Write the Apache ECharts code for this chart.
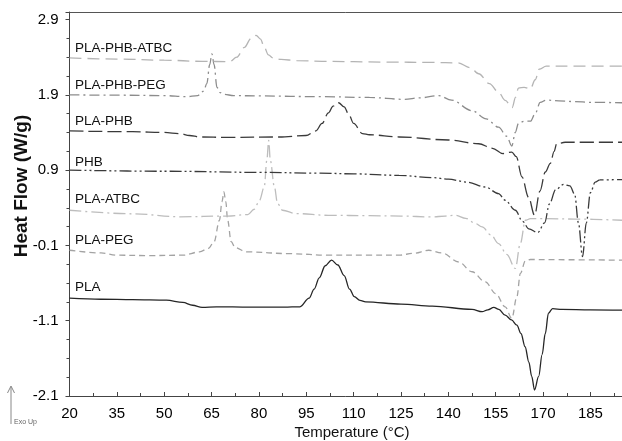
<!DOCTYPE html>
<html><head><meta charset="utf-8">
<script src="https://cdn.jsdelivr.net/npm/echarts@6/dist/echarts.min.js"></script>
<style>html,body{margin:0;padding:0;background:#fff}#c{width:622px;height:441px}</style>
</head><body><div id="c"></div>
<script>
// ---- data (temperature °C, heat flow W/g) ----
const seriesNames = ["PLA-PHB-ATBC","PLA-PHB-PEG","PLA-PHB","PHB","PLA-ATBC","PLA-PEG","PLA"];
const xTicks = [20,35,50,65,80,95,110,125,140,155,170,185];
const yTicks = [-2.1,-1.1,-0.1,0.9,1.9,2.9];

const atbcT = [20,35,50,62,70.7,73,75.4,77.5,79.1,80.5,81.7,83,84.5,87,92,100,120,135,143,147,149.6,153,155.9,158,160.2,161.3,162.2,164,166,167.5,168.8,171,180,195];
const atbcV = [2.39,2.375,2.36,2.345,2.34,2.40,2.53,2.65,2.69,2.64,2.53,2.43,2.39,2.37,2.355,2.345,2.335,2.33,2.325,2.26,2.18,2.05,1.936,1.826,1.73,1.87,1.99,2.00,1.98,2.10,2.24,2.28,2.28,2.28];

const phbpegT = [20,35,50,57,60.6,62.5,63.5,64.4,65.1,65.8,66.7,67.7,69,72,80,100,115,126,131,137,141,147.5,152,155.9,158.5,160.1,161.2,162.2,164,166,167.5,169.1,171,175,180,185,195];
const phbpegV = [1.90,1.895,1.89,1.875,1.89,1.95,2.05,2.30,2.445,2.30,2.00,1.93,1.905,1.89,1.885,1.875,1.865,1.84,1.86,1.89,1.83,1.69,1.58,1.47,1.35,1.22,1.40,1.52,1.55,1.55,1.65,1.80,1.83,1.82,1.81,1.80,1.795];

const plaphbT = [20,40,50,55,58,61.2,70,86.5,94.9,98,100,102,103.5,105.2,107,108.5,110,112.8,115,124.4,140,149.6,154,157.3,160.1,161.5,163.3,165.4,167.3,169,170.7,172.3,173.5,174.3,177,195];
const plaphbV = [1.42,1.41,1.40,1.385,1.36,1.34,1.335,1.34,1.36,1.42,1.52,1.66,1.75,1.795,1.74,1.635,1.52,1.385,1.37,1.34,1.30,1.25,1.19,1.12,1.14,1.08,0.81,0.54,0.30,0.62,0.875,0.99,1.15,1.25,1.27,1.27];

const phbT = [20,50,80,99,110,124.4,135,140,146,151.7,155.9,158,161.2,163.5,165.5,168.3,170.5,172,174,176.5,178.5,180,181.2,182.5,183.7,185,186.5,188,195];
const phbV = [0.90,0.885,0.87,0.86,0.85,0.83,0.80,0.78,0.74,0.676,0.588,0.50,0.367,0.22,0.12,0.07,0.20,0.45,0.64,0.71,0.69,0.58,0.20,-0.25,0.20,0.60,0.74,0.77,0.775];

const atbcOnlyT = [20,40,55,70,76.5,78.5,80.2,81.7,82.5,83.1,83.6,84.9,85.9,87.5,91.7,102,115,125,134.9,139,142.3,145.5,148.6,150.7,153.5,155.9,158.5,161.2,162.8,164.4,166,170,180,195];
const atbcOnlyV = [0.367,0.32,0.28,0.29,0.31,0.38,0.50,0.68,1.03,1.295,1.03,0.676,0.456,0.367,0.323,0.30,0.295,0.29,0.278,0.29,0.30,0.26,0.19,0.145,0.04,-0.075,-0.22,-0.406,-0.075,0.234,0.255,0.257,0.25,0.234];

const pegT = [20,30,35,45,55.9,61.2,64,65.8,67.5,68.3,68.9,69.5,70.1,71.2,72.5,76,90,102,115,124.4,129,133.8,138,143.3,147.5,151.7,155,158,160.1,161.7,162.8,164.4,166,175,195];
const pegV = [-0.164,-0.20,-0.23,-0.235,-0.23,-0.186,-0.14,-0.05,0.234,0.48,0.61,0.48,0.234,-0.05,-0.13,-0.186,-0.21,-0.23,-0.23,-0.23,-0.205,-0.164,-0.20,-0.32,-0.45,-0.584,-0.74,-0.915,-1.07,-0.783,-0.473,-0.305,-0.287,-0.29,-0.296];

const plaT = [20,30,40,50.7,55.9,59,62,66.5,77,88,93,95.9,97.5,99.1,101,103,105,107,108.7,110.2,112,113.8,125,134.9,147.5,150.7,152.5,154.4,156,158,160,161.7,163,164.3,165.5,166.4,167.3,168.6,169.7,170.7,171.7,173,176,185,195];
const plaV = [-0.80,-0.815,-0.82,-0.827,-0.857,-0.895,-0.924,-0.915,-0.92,-0.92,-0.915,-0.80,-0.68,-0.53,-0.37,-0.296,-0.36,-0.50,-0.68,-0.78,-0.83,-0.85,-0.88,-0.906,-0.95,-0.98,-0.955,-0.924,-0.95,-1.026,-1.09,-1.16,-1.27,-1.446,-1.65,-1.84,-2.02,-1.84,-1.55,-1.27,-1.0,-0.94,-0.95,-0.955,-0.96];

const allT = [atbcT, phbpegT, plaphbT, phbT, atbcOnlyT, pegT, plaT];
const allV = [atbcV, phbpegV, plaphbV, phbV, atbcOnlyV, pegV, plaV];

// ---- styles ----
const colors = ["#b4b4b4","#8c8c8c","#3a3a3a","#3a3a3a","#bdbdbd","#a3a3a3","#262626"];
const dashes = [[12,6],[10,4,2,4],[14,5],[12,3,2,3,2,3],[12,4,2,4],[6,4],"solid"];
const labelTop = [48,85,121,162,199,240,287];
const FONT = "'Liberation Sans', Arial, sans-serif";

const chart = echarts.init(document.getElementById('c'), null, {renderer:'canvas'});
const series = seriesNames.map((n,i)=>({
  name:n, type:'line', showSymbol:false, smooth:0.35, smoothMonotone:'x',
  data: allT[i].map((t,k)=>[t, allV[i][k]]),
  lineStyle:{color:colors[i], width:1.3, type:dashes[i]},
  z: 10-i
}));

const graphics = seriesNames.map((n,i)=>({
  type:'text', left:75, top:labelTop[i]-7,
  style:{text:n, font:"13.5px "+FONT, fill:'#111'}
}));
graphics.push(
  {type:'text', x:22, y:186, rotation:Math.PI/2,
   style:{text:'Heat Flow (W/g)', font:"bold 19px "+FONT, fill:'#111', align:'center', verticalAlign:'middle'}},
  {type:'text', x:352, y:433,
   style:{text:'Temperature (°C)', font:"15px "+FONT, fill:'#111', align:'center', verticalAlign:'middle'}},
  {type:'line', shape:{x1:11,y1:424,x2:11,y2:387}, style:{stroke:'#888',lineWidth:1}},
  {type:'polyline', shape:{points:[[7.5,393],[11,386],[14.5,393]]}, style:{stroke:'#888',lineWidth:1,fill:null}},
  {type:'text', left:14, top:419, style:{text:'Exo Up', font:"7px "+FONT, fill:'#666'}}
);

chart.setOption({
  animation:false,
  backgroundColor:'#fff',
  grid:{left:69.5, top:12, right:0, bottom:45, containLabel:false, outerBoundsMode:'none'},
  xAxis:[{
    type:'value', min:20, max:195, interval:15,
    axisLine:{onZero:false, lineStyle:{color:'#444', width:1}},
    axisTick:{show:true, inside:true, length:4, lineStyle:{color:'#444'}},
    minorTick:{show:true, splitNumber:2, length:3, lineStyle:{color:'#444'}},
    axisLabel:{fontSize:15, color:'#000', fontFamily:FONT, margin:10,
      formatter:v=> xTicks.includes(v)? String(v):''},
    splitLine:{show:false}
  },{
    type:'value', position:'top', min:20, max:195,
    axisLine:{show:true, onZero:false, lineStyle:{color:'#555', width:1}},
    axisTick:{show:false}, axisLabel:{show:false}, splitLine:{show:false}
  }],
  yAxis:{
    type:'value', min:-2.1, max:3.0, interval:1,
    axisLine:{show:true, onZero:false, lineStyle:{color:'#444', width:1}},
    axisTick:{show:true, length:4, lineStyle:{color:'#444'}},
    minorTick:{show:true, splitNumber:4, length:3, lineStyle:{color:'#444'}},
    axisLabel:{fontSize:15, color:'#000', fontFamily:FONT, margin:11,
      formatter:v=>{ const m = yTicks.find(t=>Math.abs(t-v)<1e-6); return m===undefined?'':m.toFixed(1); }},
    splitLine:{show:false}
  },
  series: series,
  graphic: graphics
});
</script></body></html>
